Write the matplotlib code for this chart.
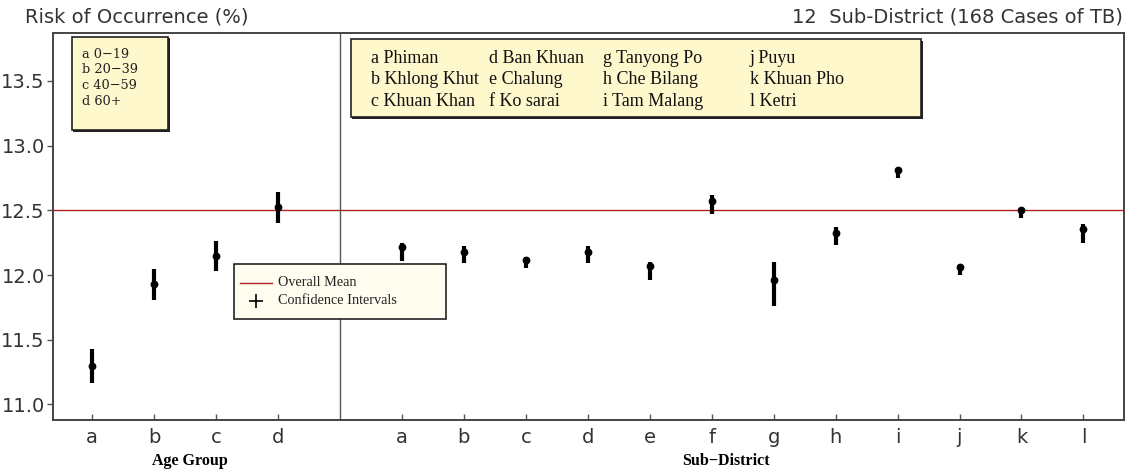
import matplotlib
matplotlib.use("Agg")
import matplotlib.pyplot as plt
from matplotlib.lines import Line2D
from matplotlib.patches import Rectangle

# ---- data -------------------------------------------------------------
age_codes = ["a", "b", "c", "d"]
age_labels = ["0\u221219", "20\u221239", "40\u221259", "60+"]
age_mean = [11.30, 11.93, 12.145, 12.53]
age_low = [11.165, 11.81, 12.03, 12.40]
age_high = [11.43, 12.05, 12.26, 12.645]

sub_codes = ["a", "b", "c", "d", "e", "f", "g", "h", "i", "j", "k", "l"]
sub_names = ["Phiman", "Khlong Khut", "Khuan Khan", "Ban Khuan", "Chalung",
             "Ko sarai", "Tanyong Po", "Che Bilang", "Tam Malang", "Puyu",
             "Khuan Pho", "Ketri"]
sub_mean = [12.215, 12.18, 12.12, 12.18, 12.07, 12.57,
            11.96, 12.326, 12.81, 12.06, 12.50, 12.357]
sub_low = [12.11, 12.09, 12.055, 12.09, 11.96, 12.47,
           11.765, 12.23, 12.75, 12.00, 12.44, 12.245]
sub_high = [12.25, 12.225, 12.14, 12.225, 12.105, 12.62,
            12.10, 12.375, 12.83, 12.08, 12.515, 12.395]

overall_mean = 12.5
y_ticks = [11.0, 11.5, 12.0, 12.5, 13.0, 13.5]

# ---- layout -------------------------------------------------------------
age_x = list(range(1, len(age_codes) + 1))
divider_x = len(age_codes) + 1
sub_x = [divider_x + 1 + i for i in range(len(sub_codes))]

W, H = 1133, 473
fig = plt.figure(figsize=(W / 100, H / 100), dpi=100)
ax = fig.add_axes([0.0468, 0.112, 0.945, 0.818])

ax.set_xlim(0.37, 17.65)
ax.set_ylim(10.88, 13.87)

ax.axhline(overall_mean, color="#b22222", lw=1.0, zorder=1)
ax.axvline(divider_x, color="#555555", lw=1.0, zorder=1)


def draw_ci(xs, mean, low, high):
    for x, lo, hi in zip(xs, low, high):
        ax.plot([x, x], [lo, hi], color="black", lw=3.0,
                solid_capstyle="butt", zorder=3)
    ax.plot(xs, mean, "o", color="black", ms=4.6, zorder=4)


draw_ci(age_x, age_mean, age_low, age_high)
draw_ci(sub_x, sub_mean, sub_low, sub_high)

# axes styling
for s in ax.spines.values():
    s.set_color("#444444")
    s.set_linewidth(1.4)
ax.set_xticks(age_x + sub_x)
ax.set_xticklabels(age_codes + sub_codes, fontsize=14, color="#333333",
                   family="DejaVu Sans")
ax.tick_params(axis="x", direction="in", length=4, width=1, color="#555555",
               pad=6)
ax.set_yticks(y_ticks)
ax.set_yticklabels([f"{v:.1f}" for v in y_ticks], fontsize=14,
                   color="#333333", family="DejaVu Sans")
ax.tick_params(axis="y", direction="out", length=4, width=1,
               color="#555555", pad=2)

# titles
fig.text(25 / W, 1 - 17 / H, "Risk of Occurrence (%)", fontsize=14,
         color="#333333", family="DejaVu Sans", va="center", ha="left")
fig.text(1123 / W, 1 - 17 / H, "12  Sub-District (168 Cases of TB)",
         fontsize=14, color="#333333", family="DejaVu Sans",
         va="center", ha="right")

# axis group titles
fig.text(190 / W, 1 - 461 / H, "Age Group", fontsize=11.5,
         fontweight="bold", family="Liberation Serif", ha="center",
         va="center")
fig.text(726 / W, 1 - 461 / H, "Sub\u2212District", fontsize=11.5,
         fontweight="bold", family="Liberation Serif", ha="center",
         va="center")


def px_box(x0, y0, x1, y1, face, lw=1.2, shadow=True):
    """Box given in pixel coordinates (top-left origin)."""
    if shadow:
        fig.patches.append(Rectangle((x0 / W + 1.5 / W, 1 - y1 / H - 1.5 / H),
                                     (x1 - x0) / W, (y1 - y0) / H,
                                     transform=fig.transFigure,
                                     facecolor="#222222", edgecolor="none",
                                     zorder=5))
    fig.patches.append(Rectangle((x0 / W, 1 - y1 / H), (x1 - x0) / W,
                                 (y1 - y0) / H, transform=fig.transFigure,
                                 facecolor=face, edgecolor="#222222",
                                 lw=lw, zorder=6))


def px_text(x, y, s, **kw):
    fig.text(x / W, 1 - y / H, s, zorder=7, va="center", ha="left", **kw)


# age group key
px_box(72, 37, 168, 130, "#fff8cc")
for i, (c, lab) in enumerate(zip(age_codes, age_labels)):
    px_text(82, 54 + i * 15.8, f"{c} {lab}", fontsize=9.3,
            family="DejaVu Serif", color="#222222")

# sub-district key
px_box(351, 39, 921, 117, "#fff8cc")
col_x = [371, 489, 603, 750]
for i, (c, name) in enumerate(zip(sub_codes, sub_names)):
    col, row = divmod(i, 3)
    px_text(col_x[col], 58 + row * 21.5, f"{c} {name}", fontsize=13,
            family="Liberation Serif", color="#111111")

# overall mean / confidence interval key
px_box(234, 264, 446, 319, "#fffdf0", shadow=False)
fig.lines.append(Line2D([240 / W, 272 / W], [1 - 283 / H, 1 - 283 / H],
                        transform=fig.transFigure, color="#b22222", lw=1.0,
                        zorder=7))
fig.lines.append(Line2D([256 / W], [1 - 301 / H], marker="+", ms=10,
                        mew=1.2, color="black", transform=fig.transFigure,
                        zorder=7))
px_text(278, 282, "Overall Mean", fontsize=10.3, family="Liberation Serif",
        color="#222222")
px_text(278, 301, "Confidence Intervals", fontsize=10.3,
        family="Liberation Serif", color="#222222")

fig.savefig("out.png", dpi=100, facecolor="white")
